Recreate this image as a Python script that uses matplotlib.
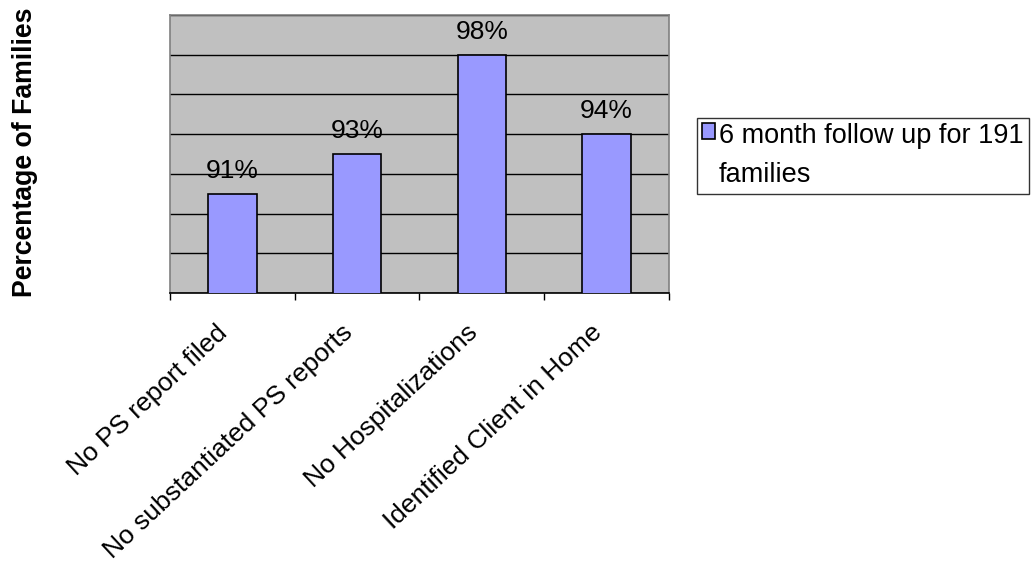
import matplotlib.pyplot as plt
from matplotlib.patches import Patch
from matplotlib.transforms import ScaledTranslation

plt.rcParams['font.family'] = ['Liberation Sans', 'DejaVu Sans']

# chart data
categories = ["No PS report filed", "No substantiated PS reports",
              "No Hospitalizations", "Identified Client in Home"]
percents = [91, 93, 98, 94]
series_name = "6 month follow up for 191\nfamilies"
y_min, y_max, y_step = 86, 100, 2

fig = plt.figure(figsize=(10.32, 5.67), dpi=100)
ax = fig.add_axes([0.1647, 0.4832, 0.4835, 0.4903])
ax.set_facecolor('#C0C0C0')

xs = list(range(len(categories)))
bars = ax.bar(xs, percents, width=0.39, color='#9999FF', edgecolor='black',
              linewidth=1.2, zorder=3)
ax.bar_label(bars, labels=[f"{p}%" for p in percents], padding=8,
             fontsize=19)

ax.set_xlim(-0.5, len(categories) - 0.5)
ax.set_ylim(y_min, y_max)

# horizontal gridlines
ax.set_yticks(range(y_min, y_max + 1, y_step))
ax.yaxis.grid(True, color='black', linewidth=1)
ax.set_axisbelow(True)
ax.tick_params(axis='y', length=0, labelleft=False)

# labels at category centres, tick marks between categories
ax.set_xticks(xs)
ax.set_xticklabels(categories, rotation=43, ha='right', va='center',
                   rotation_mode='anchor', fontsize=19)
ax.tick_params(axis='x', which='major', length=0, pad=26)
shift = ScaledTranslation(-8 / 100, 0, fig.dpi_scale_trans)
for lbl in ax.get_xticklabels():
    lbl.set_transform(lbl.get_transform() + shift)
ax.set_xticks([x - 0.5 for x in xs] + [len(categories) - 0.5], minor=True)
ax.tick_params(axis='x', which='minor', length=5, width=1, color='black',
               direction='out')

for side in ['top', 'left', 'right']:
    ax.spines[side].set_color('#808080')
    ax.spines[side].set_linewidth(1.2)
ax.spines['bottom'].set_color('black')
ax.spines['bottom'].set_linewidth(1.2)

ax.set_ylabel("Percentage of Families", fontsize=19.2, fontweight='bold')
ax.yaxis.set_label_coords(-0.265, 0.505)

handle = Patch(facecolor='#9999FF', edgecolor='black', linewidth=1.2)
leg = fig.legend([handle], [series_name], loc='upper left',
                 bbox_to_anchor=(697 / 1032, 1 - 118 / 567),
                 fontsize=19.5, frameon=True, fancybox=False,
                 handlelength=0.48, handleheight=0.48, handletextpad=0.12,
                 borderpad=0.2, borderaxespad=0)
leg.get_frame().set_edgecolor('black')
leg.get_frame().set_linewidth(1)
leg.get_texts()[0].set_linespacing(1.65)
for col in leg._legend_handle_box.get_children():
    for item in col.get_children():
        item.align = 'top'

fig.savefig('out.png', dpi=100)
